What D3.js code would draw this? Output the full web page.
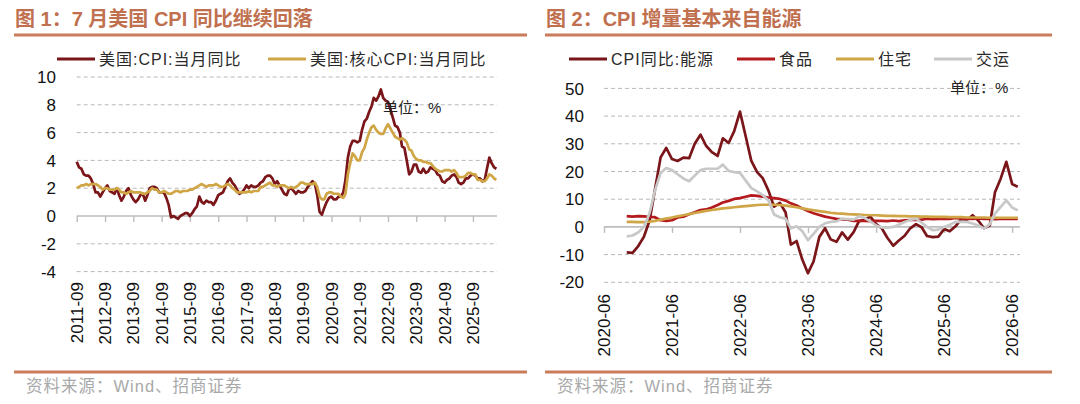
<!DOCTYPE html>
<html>
<head>
<meta charset="utf-8">
<script src="https://cdn.jsdelivr.net/npm/d3@7"></script>
<style>
body { margin: 0; background: #fff; }
text { font-family: "Liberation Sans", Arial, "Noto Sans CJK SC", sans-serif; }
</style>
</head>
<body>
<svg id="chart" width="1080" height="404"></svg>
<script>
// ---- data: left panel, monthly from 2011-09 ----
const leftStart = '2011-09'
const cpiYoY = [
  3.9, 3.5, 3.4, 3.0,
  2.9, 2.9, 2.7, 2.3, 1.7, 1.7, 1.4, 1.7, 2.0, 2.2, 1.8, 1.7,
  1.6, 2.0, 1.5, 1.1, 1.4, 1.8, 2.0, 1.5, 1.2, 1.0, 1.2, 1.5,
  1.6, 1.1, 1.5, 2.0, 2.1, 2.1, 2.0, 1.7, 1.7, 1.7, 1.3, 0.8,
  -0.1, 0.0, -0.1, -0.2, 0.0, 0.1, 0.2, 0.2, 0.0, 0.2, 0.5, 0.7,
  1.4, 1.0, 0.9, 1.1, 1.0, 1.0, 0.8, 1.1, 1.5, 1.6, 1.7, 2.1,
  2.5, 2.7, 2.4, 2.2, 1.9, 1.6, 1.7, 1.9, 2.2, 2.0, 2.2, 2.1,
  2.1, 2.2, 2.4, 2.5, 2.8, 2.9, 2.9, 2.7, 2.3, 2.5, 2.2, 1.9,
  1.6, 1.5, 1.9, 2.0, 1.8, 1.6, 1.8, 1.7, 1.7, 1.8, 2.1, 2.3,
  2.5, 2.3, 1.5, 0.3, 0.1, 0.6, 1.0, 1.3, 1.4, 1.2, 1.2, 1.4,
  1.4, 1.7, 2.6, 4.2, 5.0, 5.4, 5.4, 5.3, 5.4, 6.2, 6.8, 7.0,
  7.5, 7.9, 8.5, 8.3, 8.6, 9.1, 8.5, 8.3, 8.2, 7.7, 7.1, 6.5,
  6.4, 6.0, 5.0, 4.9, 4.0, 3.0, 3.2, 3.7, 3.7, 3.2, 3.1, 3.4,
  3.1, 3.2, 3.5, 3.4, 3.3, 3.0, 2.9, 2.5, 2.4, 2.6, 2.7, 2.9,
  3.0, 2.8, 2.4, 2.3, 2.4, 2.7, 2.7, 2.9, 3.0, 2.9, 2.7, 2.7,
  2.5, 2.6, 3.4, 4.2, 3.8, 3.5, 3.4
]
const coreYoY = [
  2.0, 2.1, 2.2, 2.2,
  2.3, 2.2, 2.3, 2.3, 2.3, 2.2, 2.1, 1.9, 2.0, 2.0, 1.9, 1.9,
  1.9, 2.0, 1.9, 1.7, 1.7, 1.6, 1.7, 1.8, 1.7, 1.7, 1.7, 1.7,
  1.6, 1.6, 1.7, 1.8, 2.0, 1.9, 1.9, 1.7, 1.7, 1.8, 1.7, 1.6,
  1.6, 1.7, 1.8, 1.8, 1.7, 1.8, 1.8, 1.8, 1.9, 1.9, 2.0, 2.1,
  2.2, 2.3, 2.2, 2.1, 2.2, 2.2, 2.2, 2.3, 2.2, 2.1, 2.1, 2.2,
  2.3, 2.2, 2.0, 1.9, 1.7, 1.7, 1.7, 1.7, 1.7, 1.8, 1.7, 1.8,
  1.8, 1.8, 2.1, 2.1, 2.2, 2.3, 2.4, 2.2, 2.2, 2.1, 2.2, 2.2,
  2.2, 2.1, 2.0, 2.1, 2.0, 2.1, 2.2, 2.4, 2.4, 2.3, 2.3, 2.3,
  2.3, 2.4, 2.1, 1.4, 1.2, 1.2, 1.6, 1.7, 1.7, 1.6, 1.6, 1.6,
  1.4, 1.3, 1.6, 3.0, 3.8, 4.5, 4.3, 4.0, 4.0, 4.6, 4.9, 5.5,
  6.0, 6.4, 6.5, 6.2, 6.0, 5.9, 5.9, 6.3, 6.6, 6.3, 6.0, 5.7,
  5.6, 5.5, 5.6, 5.5, 5.3, 4.8, 4.7, 4.3, 4.1, 4.0, 4.0, 3.9,
  3.9, 3.8, 3.8, 3.6, 3.4, 3.3, 3.2, 3.2, 3.3, 3.3, 3.3, 3.2,
  3.3, 3.1, 2.8, 2.8, 2.8, 2.9, 3.1, 3.1, 3.0, 3.0, 2.6, 2.6,
  2.5, 2.5, 2.7, 3.0, 2.9, 2.7, 2.6
]
const leftTicks = ['2011-09', '2012-09', '2013-09', '2014-09', '2015-09', '2016-09', '2017-09', '2018-09',
  '2019-09', '2020-09', '2021-09', '2022-09', '2023-09', '2024-09', '2025-09']
const leftYTicks = [-4, -2, 0, 2, 4, 6, 8, 10]
const leftNames = ['美国:CPI:当月同比', '美国:核心CPI:当月同比']

// ---- data: right panel, monthly from 2020-10 ----
const rightStart = '2020-10'
const energy = [
  -9.2, -9.4, -7.0,
  -3.6, 2.4, 13.2, 25.1, 28.5, 24.5, 23.8, 25.0, 24.8, 30.0, 33.3, 29.3,
  27.0, 25.6, 32.0, 30.3, 34.6, 41.6, 32.9, 23.8, 19.8, 17.6, 13.1, 7.3,
  8.7, 5.2, -6.4, -5.1, -11.7, -16.7, -12.5, -3.6, -0.5, -4.5, -5.4, -2.0,
  -4.6, -1.9, 2.1, 2.6, 3.7, 1.0, -0.5, -4.0, -6.8, -4.9, -3.2, -0.5,
  1.0, -0.2, -3.3, -3.7, -3.5, -0.8, -1.6, 0.2, 2.8, 2.5, 4.2, 2.3,
  -0.5, 0.5, 12.5, 17.5, 23.5, 15.5, 14.5
]
const food = [
  3.9, 3.7, 3.9,
  3.8, 3.6, 3.5, 2.4, 2.2, 2.4, 3.4, 3.7, 4.6, 5.3, 6.1, 6.3,
  7.0, 7.9, 8.8, 9.4, 10.1, 10.4, 10.9, 11.4, 11.2, 10.9, 10.6, 10.4,
  10.1, 9.5, 8.5, 7.7, 6.7, 5.7, 4.9, 4.3, 3.7, 3.3, 2.9, 2.7,
  2.6, 2.2, 2.2, 2.2, 2.1, 2.2, 2.2, 2.1, 2.3, 2.1, 2.4, 2.5,
  2.5, 2.6, 3.0, 2.8, 2.9, 3.0, 2.9, 3.2, 3.1, 3.0, 2.9, 3.1,
  2.9, 3.0, 2.8, 2.9, 3.0, 2.9, 2.9
]
const housing = [
  1.8, 1.8, 1.7,
  1.7, 1.9, 2.2, 2.6, 3.0, 3.4, 3.8, 4.2, 4.6, 5.0, 5.4, 5.8,
  6.1, 6.4, 6.7, 6.9, 7.1, 7.3, 7.5, 7.7, 7.9, 8.0, 8.0, 8.0,
  7.9, 7.7, 7.4, 7.1, 6.7, 6.3, 6.0, 5.7, 5.4, 5.1, 4.9, 4.8,
  4.6, 4.5, 4.4, 4.3, 4.2, 4.2, 4.1, 4.0, 4.0, 3.9, 3.9, 3.8,
  3.8, 3.7, 3.7, 3.6, 3.6, 3.6, 3.5, 3.5, 3.5, 3.4, 3.4, 3.4,
  3.4, 3.3, 3.3, 3.3, 3.3, 3.3, 3.3
]
const transport = [
  -3.4, -3.1, -2.0,
  0.0, 5.0, 13.0, 19.5, 21.3, 20.5, 19.0, 17.5, 16.5, 18.5, 20.5, 21.0,
  21.0, 21.0, 22.5, 20.2, 19.8, 19.5, 16.8, 14.0, 12.8, 11.5, 9.5, 4.5,
  3.5, 3.0, -0.5, 0.2, -1.5, -4.8, -2.5, 0.0, 1.3, 1.8, 2.0, 3.0,
  2.8, 2.6, 3.8, 3.2, 2.0, 0.5, -0.2, -0.3, 0.0, 0.8, 1.8, 2.5,
  3.0, 1.5, 0.0, -1.2, -1.0, 0.0, 0.8, 1.8, 1.8, 1.8, 1.2, 0.5,
  -0.6, 1.0, 4.8, 7.2, 9.6, 7.0, 6.0
]
const rightTicks = ['2020-06', '2021-06', '2022-06', '2023-06', '2024-06', '2025-06', '2026-06']
const rightYTicks = [-20, -10, 0, 10, 20, 30, 40, 50]
const rightNames = ['CPI同比:能源', '食品', '住宅', '交运']

const C_DARK = '#7a1519', C_GOLD = '#cfa545', C_RED = '#b3191d', C_GRAY = '#c8c8c8'
const TITLE_COL = '#c0704e'

const parseMonth = d3.timeParse('%Y-%m')
const svg = d3.select('#chart')

const months = (start, n) => d3.range(n).map(i => d3.timeMonth.offset(parseMonth(start), i))

// ---- shared frame pieces ----
const frame = (x0, x1, title) => {
    svg.append('text').attr('x', x0).attr('y', 26)
        .attr('font-size', 20).attr('font-weight', 'bold').attr('fill', TITLE_COL)
        .text(title)
    svg.append('line').attr('x1', x0 - 1).attr('x2', x1).attr('y1', 35).attr('y2', 35)
        .attr('stroke', '#c97d5c').attr('stroke-width', 3)
    svg.append('line').attr('x1', x0 - 1).attr('x2', x1).attr('y1', 372).attr('y2', 372)
        .attr('stroke', '#c97d5c').attr('stroke-width', 3)
    svg.append('text').attr('x', x0 + 11).attr('y', 392)
        .attr('font-size', 16.5).attr('fill', '#a9a9a9').attr('letter-spacing', 1)
        .attr('font-family', '"Noto Sans CJK SC", sans-serif')
        .text('资料来源：Wind、招商证券')
}

const legend = (items, y) => {
    items.forEach(it => {
        svg.append('line').attr('x1', it.x).attr('x2', it.x + 38).attr('y1', y).attr('y2', y)
            .attr('stroke', it.color).attr('stroke-width', 3)
        svg.append('text').attr('x', it.x + 42).attr('y', y).attr('dy', '0.36em')
            .attr('font-size', 16).attr('letter-spacing', 1).attr('fill', '#2a2a2a').text(it.name)
    })
}

const panel = (opt) => {
    const x = d3.scaleTime().domain(opt.domain).range(opt.xRange)
    const y = d3.scaleLinear().domain(opt.yDomain).range(opt.yRange)
    const g = svg.append('g')
    const gx0 = opt.xRange[0], gx1 = opt.gridEnd

    // dashed gridlines
    g.selectAll('line.grid')
        .data(opt.yTicks.filter(d => d !== 0))
        .enter()
        .append('line')
        .attr('x1', gx0).attr('x2', gx1)
        .attr('y1', d => y(d)).attr('y2', d => y(d))
        .attr('stroke', '#b8b8b8').attr('stroke-width', 1).attr('stroke-dasharray', '4,3')

    // y labels
    g.selectAll('text.ylab')
        .data(opt.yTicks)
        .enter()
        .append('text')
        .attr('x', opt.yLabelX).attr('y', d => y(d)).attr('dy', '0.36em')
        .attr('text-anchor', 'end').attr('font-size', 17).attr('fill', '#111')
        .text(d => d)

    // zero axis with ticks
    const tickDates = opt.ticks.map(parseMonth)
    const xAxis = d3.axisBottom(x).tickValues(tickDates).tickSize(6).tickFormat('')
    const ax = g.append('g').attr('transform', 'translate(0,' + y(0) + ')').call(xAxis)
    ax.select('.domain').attr('d', 'M' + gx0 + ',0H' + gx1).attr('stroke', '#bdbdbd').attr('stroke-width', 1.6)
    ax.selectAll('.tick line').attr('stroke', '#bdbdbd').attr('stroke-width', 1.4)

    // rotated date labels
    g.selectAll('text.xlab')
        .data(tickDates)
        .enter()
        .append('text')
        .attr('transform', d => 'translate(' + x(d) + ',' + opt.xLabelTop + ') rotate(-90)')
        .attr('dy', '0.36em').attr('text-anchor', 'end')
        .attr('font-size', 17).attr('fill', '#111')
        .text(d => d3.timeFormat('%Y-%m')(d))

    // series
    opt.series.forEach(s => {
        const dates = months(opt.start, s.values.length)
        const line = d3.line()
            .x((d, i) => x(dates[i]))
            .y(d => y(d))
        g.append('path')
            .attr('d', line(s.values))
            .attr('fill', 'none')
            .attr('stroke', s.color)
            .attr('stroke-width', 2.7)
            .attr('stroke-linejoin', 'round')
    })

    // unit label
    g.append('text').attr('x', opt.unit[0]).attr('y', opt.unit[1]).attr('dy', '0.36em')
        .attr('font-size', 15).attr('fill', '#222').text('单位：%')
}

// ---- left panel ----
frame(15, 527, '图 1：7 月美国 CPI 同比继续回落')
legend([
    {x: 57, color: C_DARK, name: leftNames[0]},
    {x: 268, color: C_GOLD, name: leftNames[1]}
], 59)
panel({
    start: leftStart,
    domain: [parseMonth('2011-09'), parseMonth('2026-07')],
    xRange: [76.7, 496.4],
    gridEnd: 497,
    yDomain: [-4, 10],
    yRange: [271.6, 77],
    yTicks: leftYTicks,
    yLabelX: 56,
    ticks: leftTicks,
    xLabelTop: 282,
    unit: [383, 108],
    series: [
        {values: cpiYoY, color: C_DARK},
        {values: coreYoY, color: C_GOLD}
    ]
})

// ---- right panel ----
frame(546, 1052, '图 2：CPI 增量基本来自能源')
legend([
    {x: 569, color: C_DARK, name: rightNames[0]},
    {x: 737, color: C_RED, name: rightNames[1]},
    {x: 836, color: C_GOLD, name: rightNames[2]},
    {x: 934, color: C_GRAY, name: rightNames[3]}
], 59)
panel({
    start: rightStart,
    domain: [parseMonth('2020-06'), parseMonth('2026-07')],
    xRange: [604, 1017.7],
    gridEnd: 1020,
    yDomain: [-20, 50],
    yRange: [282.3, 88.4],
    yTicks: rightYTicks,
    yLabelX: 584,
    ticks: rightTicks,
    xLabelTop: 294,
    unit: [950, 88],
    series: [
        {values: energy, color: C_DARK},
        {values: food, color: C_RED},
        {values: housing, color: C_GOLD},
        {values: transport, color: C_GRAY}
    ]
})
</script>
</body>
</html>
